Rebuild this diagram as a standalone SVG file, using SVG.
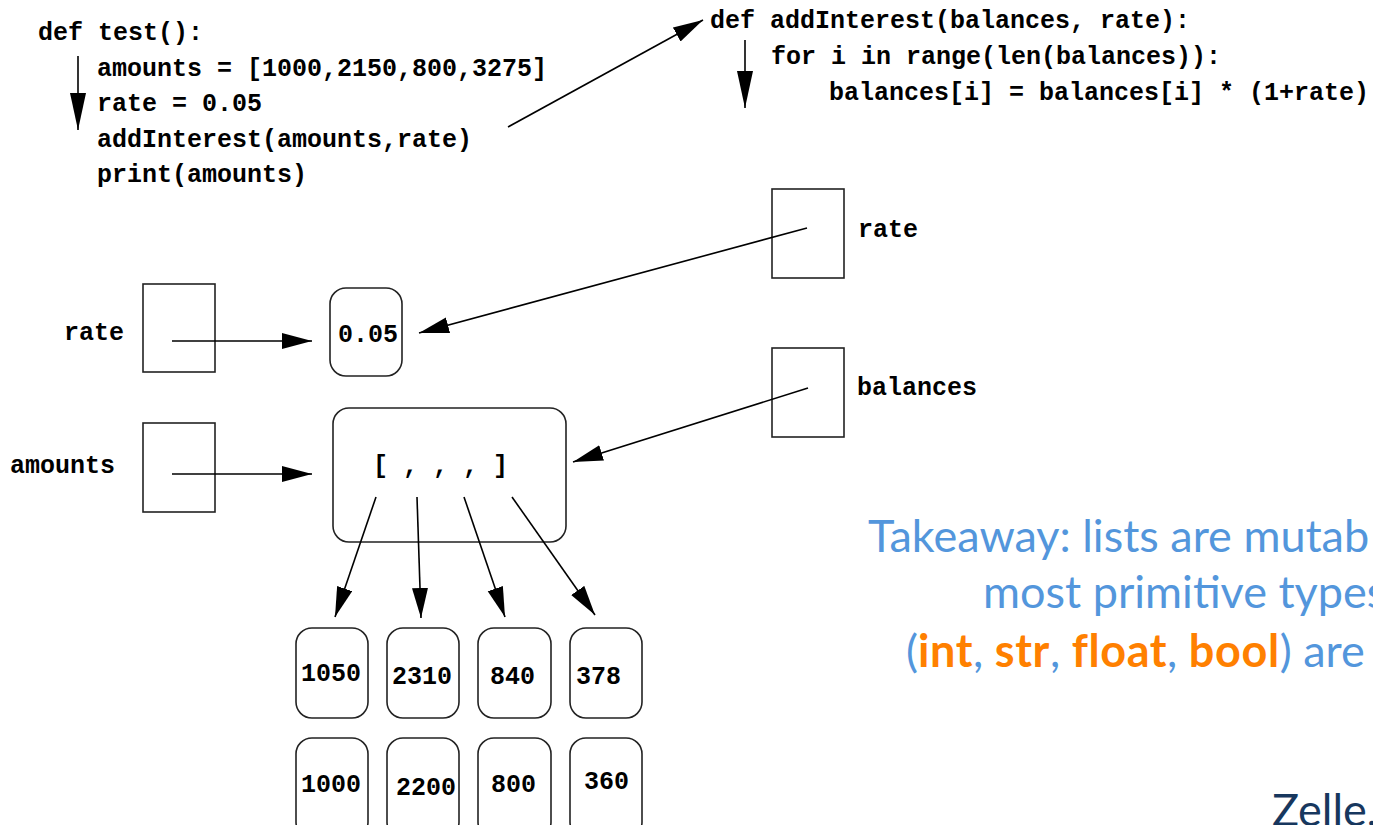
<svg xmlns="http://www.w3.org/2000/svg" width="1373" height="825" viewBox="0 0 1373 825">
<style>
.code{font-family:"Liberation Mono","Courier New",monospace;font-weight:bold;font-size:25px;fill:#000}
.box{fill:none;stroke:#222;stroke-width:1.6}
.ln{fill:none;stroke:#000;stroke-width:1.6}
.blue{font-family:Lato,"Open Sans",sans-serif;font-size:45px;fill:#5396DC}
.org{fill:#FF8000;font-weight:bold;letter-spacing:0.6px}
</style>
<defs>
<marker id="ah" markerUnits="userSpaceOnUse" markerWidth="32" markerHeight="18" refX="30" refY="8" orient="auto"><path d="M0,0 L30,8 L0,16 z" fill="#000"/></marker>
<marker id="fh" markerUnits="userSpaceOnUse" markerWidth="40" markerHeight="18" refX="37" refY="8" orient="auto"><path d="M0,0 L37,8 L0,16 z" fill="#000"/></marker>
</defs>
<rect width="1373" height="825" fill="#fff"/>

<g id="code-test">
<text class="code" x="38" y="40">def test():</text>
<text class="code" x="97" y="76">amounts = [1000,2150,800,3275]</text>
<text class="code" x="97" y="111">rate = 0.05</text>
<text class="code" x="97" y="147">addInterest(amounts,rate)</text>
<text class="code" x="97" y="182">print(amounts)</text>
</g>
<g id="code-addInterest">
<text class="code" x="710" y="28">def addInterest(balances, rate):</text>
<text class="code" x="771" y="64">for i in range(len(balances)):</text>
<text class="code" x="829" y="100">balances[i] = balances[i] * (1+rate)</text>
</g>

<g id="var-rate">
<text class="code" x="64" y="340">rate</text>
<rect class="box" x="143" y="284" width="72" height="88"/>
</g>
<g id="var-amounts">
<text class="code" x="10" y="473">amounts</text>
<rect class="box" x="143" y="423" width="72" height="89"/>
</g>
<g id="param-rate">
<rect class="box" x="772" y="189" width="72" height="89"/>
<text class="code" x="858" y="237">rate</text>
</g>
<g id="param-balances">
<rect class="box" x="772" y="348" width="72" height="89"/>
<text class="code" x="857" y="395">balances</text>
</g>
<g id="val-005">
<rect class="box" x="330" y="288" width="72" height="88" rx="16"/>
<text class="code" x="338" y="342">0.05</text>
</g>
<g id="list">
<rect class="box" x="333" y="408" width="233" height="134" rx="16"/>
<text class="code" x="373" y="473">[ , , , ]</text>
</g>

<g id="new-1050"><rect class="box" x="296" y="628" width="72" height="90" rx="16"/><text class="code" x="301" y="681">1050</text></g>
<g id="new-2310"><rect class="box" x="387" y="628" width="72" height="90" rx="16"/><text class="code" x="392" y="684">2310</text></g>
<g id="new-840"><rect class="box" x="478" y="628" width="73" height="90" rx="16"/><text class="code" x="490" y="684">840</text></g>
<g id="new-378"><rect class="box" x="570" y="628" width="72" height="90" rx="16"/><text class="code" x="576" y="684">378</text></g>
<g id="old-1000"><rect class="box" x="296" y="738" width="72" height="100" rx="16"/><text class="code" x="301" y="792">1000</text></g>
<g id="old-2200"><rect class="box" x="387" y="738" width="72" height="100" rx="16"/><text class="code" x="396" y="795">2200</text></g>
<g id="old-800"><rect class="box" x="478" y="738" width="73" height="100" rx="16"/><text class="code" x="491" y="792">800</text></g>
<g id="old-360"><rect class="box" x="570" y="738" width="72" height="100" rx="16"/><text class="code" x="584" y="789">360</text></g>

<g id="connectors">
<line class="ln" x1="78" y1="56" x2="78" y2="130" marker-end="url(#fh)"/>
<line class="ln" x1="745" y1="40" x2="745" y2="108" marker-end="url(#fh)"/>
<line class="ln" x1="508" y1="127" x2="703" y2="20" marker-end="url(#ah)"/>
<line class="ln" x1="172" y1="341" x2="312" y2="341" marker-end="url(#ah)"/>
<line class="ln" x1="172" y1="474" x2="312" y2="474" marker-end="url(#ah)"/>
<line class="ln" x1="807" y1="228" x2="419" y2="333" marker-end="url(#ah)"/>
<line class="ln" x1="808" y1="388" x2="573" y2="462" marker-end="url(#ah)"/>
<line class="ln" x1="376" y1="497" x2="335" y2="617" marker-end="url(#ah)"/>
<line class="ln" x1="417" y1="497" x2="421" y2="618" marker-end="url(#ah)"/>
<line class="ln" x1="464" y1="497" x2="505" y2="617" marker-end="url(#ah)"/>
<line class="ln" x1="512" y1="497" x2="595" y2="615" marker-end="url(#ah)"/>
</g>

<g id="takeaway">
<text class="blue" x="868" y="552">Takeaway: lists are mutab</text>
<text class="blue" x="983" y="608">most primitive types</text>
<text class="blue" x="906" y="667">(<tspan class="org">int</tspan>, <tspan class="org">str</tspan>, <tspan class="org">float</tspan>, <tspan class="org">bool</tspan>) are</text>
<text x="1272" y="826" style="font-family:Lato,'Open Sans',sans-serif;font-size:45px;fill:#17375E">Zelle,</text>
</g>
</svg>
